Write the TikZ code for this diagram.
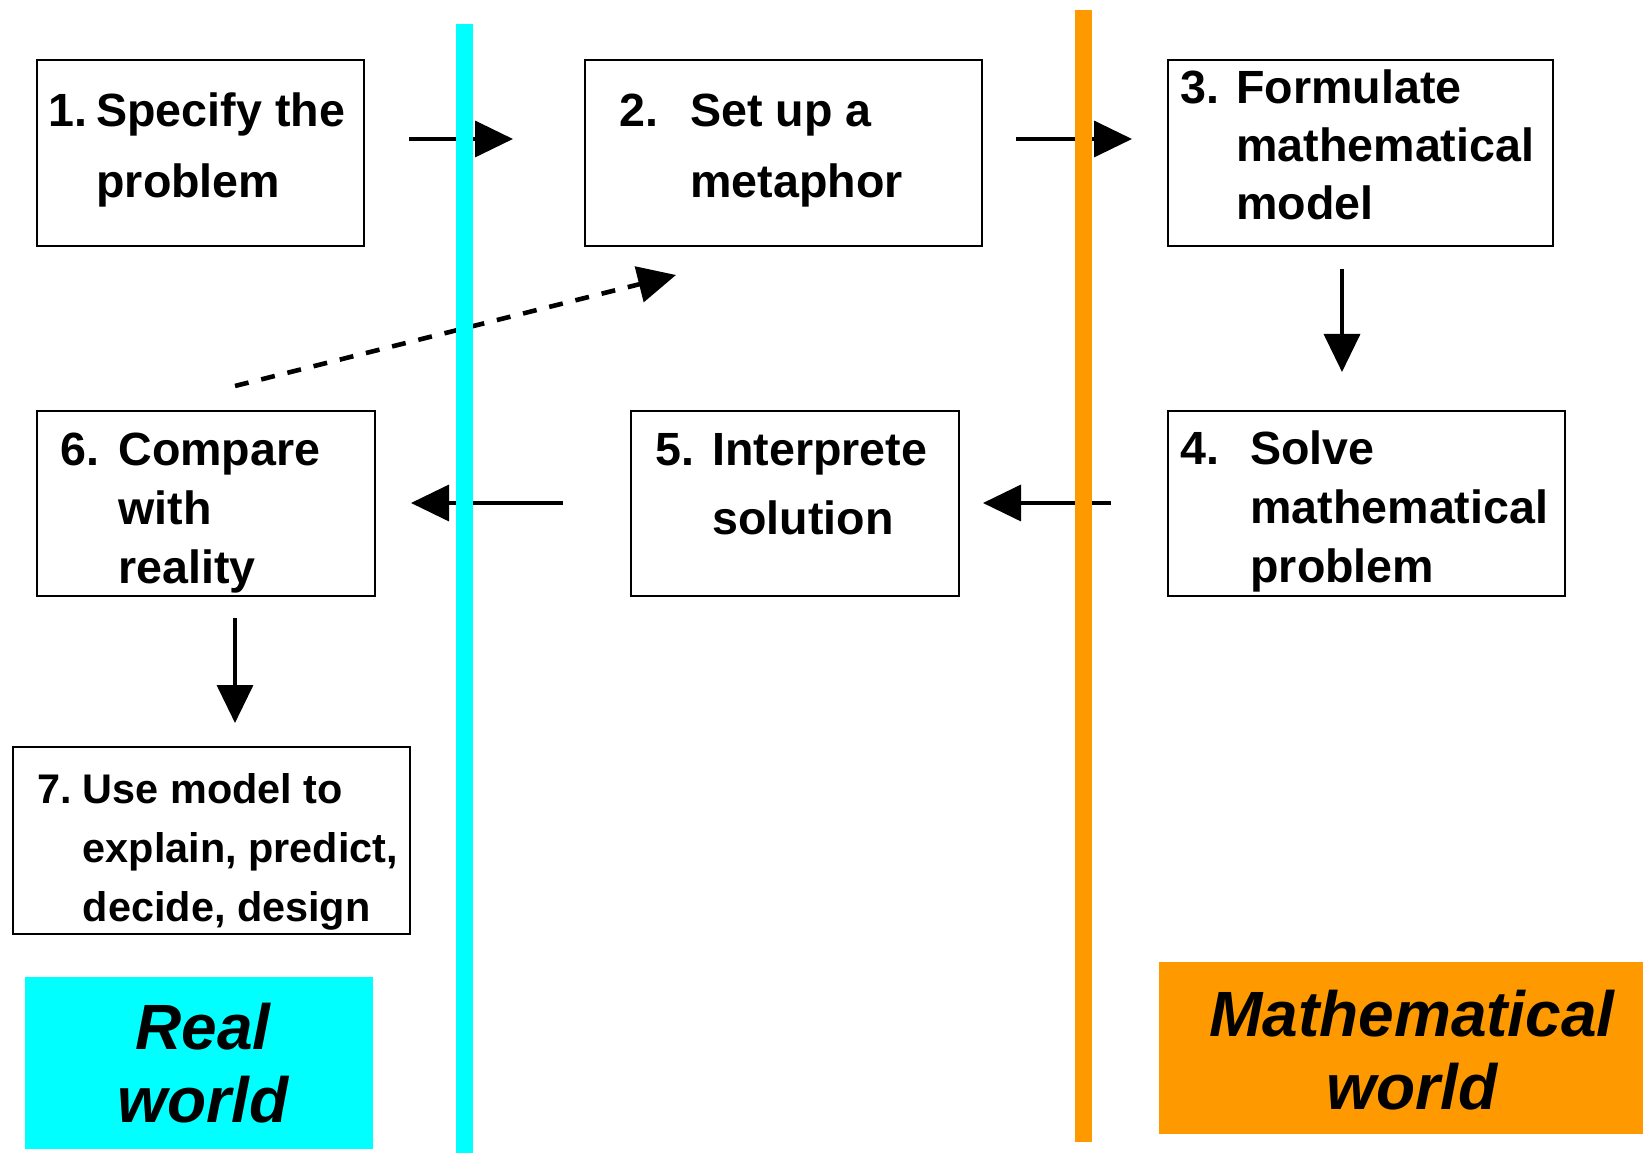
\documentclass[tikz,border=0pt]{standalone}
\usepackage{fontspec}
\setmainfont{Liberation Sans}
\usetikzlibrary{arrows.meta}
\definecolor{realcyan}{RGB}{0,255,255}
\definecolor{mathorange}{RGB}{255,153,0}
\begin{document}
\begin{tikzpicture}[x=0.5pt,y=-0.5pt,
  stepbox/.style={draw=black, line width=1.1pt, inner sep=0pt, fill=white},
  steptext/.style={anchor=base west, inner sep=0pt, font=\bfseries\fontsize{23.3}{#1}\selectfont},
  arr/.style={line width=1.8pt, -{Triangle[length=19pt,width=18pt]}},
  worldbox/.style={inner sep=0pt},
  worldtext/.style={align=center, inner sep=0pt, font=\bfseries\itshape\fontsize{32}{36.7}\selectfont}]
\useasboundingbox (0,0) rectangle (1643,1154);
\fill[white] (0,0) rectangle (1643,1154);

% step boxes
\node[stepbox, minimum width=163.5pt, minimum height=93pt] (b1) at (200.5,153) {};
\node[stepbox, minimum width=198.5pt, minimum height=93pt] (b2) at (783.5,153) {};
\node[stepbox, minimum width=192.5pt, minimum height=93pt] (b3) at (1360.5,153) {};
\node[stepbox, minimum width=198.5pt, minimum height=92.5pt] (b4) at (1366.5,503.5) {};
\node[stepbox, minimum width=164pt, minimum height=92.5pt] (b5) at (795,503.5) {};
\node[stepbox, minimum width=169pt, minimum height=92.5pt] (b6) at (206,503.5) {};
\node[stepbox, minimum width=198.5pt, minimum height=93.5pt] (b7) at (211.5,840.5) {};

% texts
\node[steptext=35.5] (t1) at (48,127) {\begin{tabular}[t]{@{}p{24pt}@{}l@{}}1.&Specify the\\&problem\end{tabular}};
\node[steptext=35.5] (t2) at (619,127) {\begin{tabular}[t]{@{}p{35.5pt}@{}l@{}}2.&Set up a\\&metaphor\end{tabular}};
\node[steptext=29] (t3) at (1180,104) {\begin{tabular}[t]{@{}p{28pt}@{}l@{}}3.&Formulate\\&mathematical\\&model\end{tabular}};
\node[steptext=29.5] (t4) at (1180,465) {\begin{tabular}[t]{@{}p{35pt}@{}l@{}}4.&Solve\\&mathematical\\&problem\end{tabular}};
\node[steptext=34.5] (t5) at (655,466) {\begin{tabular}[t]{@{}p{28.5pt}@{}l@{}}5.&Interprete\\&solution\end{tabular}};
\node[steptext=29.5] (t6) at (60,466) {\begin{tabular}[t]{@{}p{29pt}@{}l@{}}6.&Compare\\&with\\&reality\end{tabular}};
\node[anchor=base west, inner sep=0pt, font=\bfseries\fontsize{20.7}{29.5}\selectfont] (t7) at (37.5,803) {\begin{tabular}[t]{@{}p{22.5pt}@{}l@{}}7.&Use model to\\&explain, predict,\\&decide, design\end{tabular}};

% connector ends
\coordinate (a12s) at (409,139);  \coordinate (a12e) at (513,139);
\coordinate (a23s) at (1016,139); \coordinate (a23e) at (1132,139);
\coordinate (a34s) at (1342,269); \coordinate (a34e) at (1342,372);
\coordinate (a45s) at (1111,503); \coordinate (a45e) at (983,503);
\coordinate (a56s) at (563,503);  \coordinate (a56e) at (411,503);
\coordinate (a67s) at (235,618);  \coordinate (a67e) at (235,723);
\coordinate (a62s) at (235,386);  \coordinate (a62e) at (676,275);

\draw[arr] (a12s) -- (a12e);
\draw[arr] (a23s) -- (a23e);
\draw[arr] (a34s) -- (a34e);
\draw[arr] (a45s) -- (a45e);
\draw[arr] (a56s) -- (a56e);
\draw[arr] (a67s) -- (a67e);
\draw[arr, line width=2.3pt, dash pattern=on 7pt off 6.5pt] (a62s) -- (a62e);

% world dividers
\fill[realcyan] (456,24) rectangle (473,1153);
\fill[mathorange] (1075,10) rectangle (1092,1142);

% world labels
\node[worldbox, fill=realcyan, minimum width=174pt, minimum height=86pt] (rw) at (199,1063) {};
\node[worldtext] (rwt) at (203,1063) {Real\\world};
\node[worldbox, fill=mathorange, minimum width=242pt, minimum height=86pt] (mw) at (1401,1048) {};
\node[worldtext] (mwt) at (1412,1050) {Mathematical\\world};
\end{tikzpicture}
\end{document}
